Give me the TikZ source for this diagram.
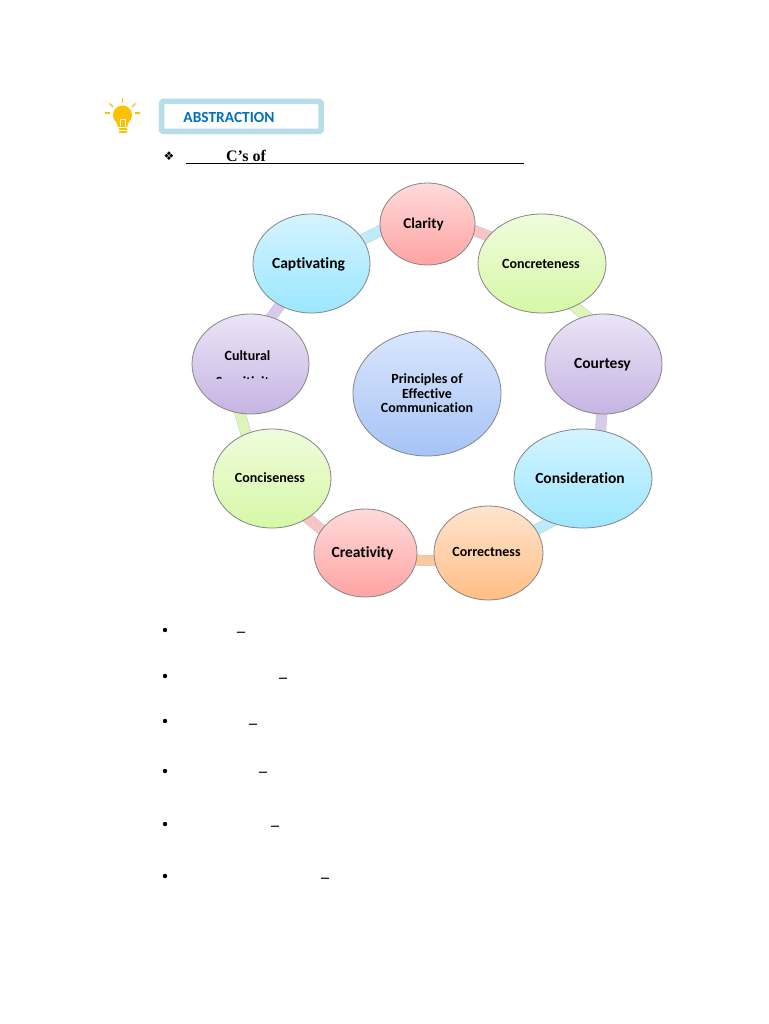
\documentclass[tikz,border=0pt]{standalone}
\usepackage{fontspec}
\setmainfont{Carlito}[Ligatures=NoCommon]
\newfontfamily\serifface{Liberation Serif}
\newfontfamily\dingface{DejaVu Sans}
\usepackage{xcolor}
\usepackage{tikz}
\usetikzlibrary{backgrounds,shapes.geometric}
\definecolor{boxblue}{HTML}{B7DDE8}
\definecolor{headblue}{HTML}{0070C0}
\definecolor{bulbyellow}{HTML}{FFC000}
\definecolor{rimgray}{HTML}{858585}
\definecolor{barpink}{HTML}{F9C4C4}
\definecolor{bargreen}{HTML}{DDF5B8}
\definecolor{barpurple}{HTML}{D6CBEA}
\definecolor{barblue}{HTML}{BDEBFA}
\definecolor{barorange}{HTML}{FBC99C}
\definecolor{pinktop}{HTML}{FFDADA}
\definecolor{pinklow}{HTML}{FFA3A3}
\definecolor{greentop}{HTML}{EFFCDC}
\definecolor{greenlow}{HTML}{D6F8A6}
\definecolor{purpletop}{HTML}{EBE4F6}
\definecolor{purplelow}{HTML}{C6B4E3}
\definecolor{bluetop}{HTML}{D4F4FF}
\definecolor{bluelow}{HTML}{9CE6FF}
\definecolor{orangetop}{HTML}{FFE4CE}
\definecolor{orangelow}{HTML}{FFBE85}
\definecolor{coretop}{HTML}{D9E6FC}
\definecolor{corelow}{HTML}{A6C3F7}
\tikzset{
  bubble/.style={ellipse,draw=rimgray,line width=.8pt,inner sep=0pt},
  pinkb/.style={bubble,top color=pinktop,bottom color=pinklow},
  greenb/.style={bubble,top color=greentop,bottom color=greenlow},
  purpleb/.style={bubble,top color=purpletop,bottom color=purplelow},
  blueb/.style={bubble,top color=bluetop,bottom color=bluelow},
  orangeb/.style={bubble,top color=orangetop,bottom color=orangelow},
  coreb/.style={bubble,top color=coretop,bottom color=corelow},
  biglab/.style={font=\fontsize{15.5}{17}\selectfont\bfseries,text=black},
  smalllab/.style={font=\fontsize{14}{16}\selectfont\bfseries,text=black},
  ringbar/.style={line width=.5pt,draw=rimgray!45,double=#1,double distance=10pt,
                  shorten <=-5pt,shorten >=-5pt},
  dot/.style={circle,fill=black,inner sep=0pt,minimum size=4.4pt},
  stroke/.style={font=\serifface\fontsize{16}{18}\selectfont\bfseries,inner sep=0pt},
  ray/.style={draw=bulbyellow,line width=1.3pt}
}
\begin{document}
\begin{tikzpicture}[x=1pt,y=-1pt]
  \path[use as bounding box] (0,0) rectangle (768,1024);
  % heading
  \fill[bulbyellow] (122.5,115) circle (9.5);
  \fill[bulbyellow] (115.5,120) -- (129.5,120) -- (127,127) -- (118,127) -- cycle;
  \fill[bulbyellow] (118.5,128) rectangle (126.5,130);
  \fill[bulbyellow] (118.5,131) rectangle (126.5,133.5);
  \draw[white,line width=.6pt] (120,126.5) -- (120,119) -- (125,119) -- (125,126.5);
  \draw[ray] (122.5,98.5) -- (122.5,103);
  \draw[ray] (105,113) -- (110,113);
  \draw[ray] (135,113) -- (140,113);
  \draw[ray] (109.5,103.5) -- (113,107);
  \draw[ray] (135.5,103.5) -- (132,107);
  \draw[boxblue,line width=5.5pt,rounded corners=1.5pt] (161.5,101.5) rectangle (321,131.5);
  \node[font=\fontsize{15.4}{17}\selectfont\bfseries,text=headblue,inner sep=0pt] (head) at (229,117.5) {ABSTRACTION};
  \node[font=\dingface\fontsize{12}{14}\selectfont,inner sep=0pt] (mark) at (169,156) {❖};
  \node[stroke] (title) at (246,156) {C’s of};
  \draw[black,line width=1.6pt] (186,163.5) -- (524,163.5);
  % ring
  \node[pinkb,minimum width=95pt,minimum height=82pt,label={[biglab,font=\fontsize{15}{17}\selectfont\bfseries,xshift=-4pt]center:Clarity}] (clarity) at (427.5,224) {};
  \node[greenb,minimum width=128pt,minimum height=99pt,label={[smalllab,xshift=-1pt]center:Concreteness}] (concrete) at (542,263.5) {};
  \node[purpleb,minimum width=117pt,minimum height=100pt,label={[biglab,xshift=-1pt,yshift=-1pt]center:Courtesy}] (courtesy) at (603.5,364) {};
  \node[blueb,minimum width=138pt,minimum height=99pt,label={[biglab,xshift=-3pt]center:Consideration}] (consider) at (583,478.5) {};
  \node[orangeb,minimum width=109pt,minimum height=94pt,label={[smalllab,xshift=-2pt,yshift=1pt]center:Correctness}] (correct) at (488.5,553) {};
  \node[pinkb,minimum width=103pt,minimum height=88pt,label={[biglab,xshift=-3pt]center:Creativity}] (creative) at (365.5,553) {};
  \node[greenb,minimum width=118pt,minimum height=99pt,label={[smalllab,xshift=-2pt,yshift=1pt]center:Conciseness}] (concise) at (272,478.5) {};
  \node[purpleb,minimum width=117pt,minimum height=100pt,label={[smalllab,xshift=-3pt,yshift=8pt]center:Cultural}] (cultural) at (250.5,364) {};
  \node[blueb,minimum width=117pt,minimum height=99pt,label={[biglab,xshift=-3pt,yshift=-.5pt]center:Captivating}] (captivate) at (311.5,263.5) {};
  \node[coreb,minimum width=148pt,minimum height=125pt,smalllab,align=center] (core) at (427,393.5) {Principles of\\[-1.5pt]Effective\\[-1.5pt]Communication};
  \begin{scope}
    \clip (200,370) rectangle (300,378.5);
    \node[smalllab,inner sep=0pt] (sensitive) at (246,383) {Sensitivity};
  \end{scope}
  \begin{scope}[on background layer]
    \fill[white] (0,0) rectangle (768,1024);
    \foreach \a/\aa/\b/\bb/\c in {captivate/25/clarity/188/barblue,clarity/352/concrete/153/barpink,
      concrete/307/courtesy/110/bargreen,courtesy/268/consider/70/barpurple,
      consider/233/correct/26/barblue,correct/188/creative/352/barorange,
      creative/152/concise/312/barpink,concise/120/cultural/258/bargreen,
      cultural/66/captivate/233/barpurple}{
      \draw[ringbar=\c] (\a.\aa) -- (\b.\bb);
    }
  \end{scope}
  % list marks
  \foreach \i/\y/\dx/\dy in {1/630/241/631,2/676/283/677,3/721/253/723,4/771/263/771,5/824/275/825,6/876/325/877}{
    \node[dot] (dot\i) at (165,\y) {};
    \node[stroke] (dash\i) at (\dx,\dy+3.5) {–};
  }
\end{tikzpicture}
\end{document}
